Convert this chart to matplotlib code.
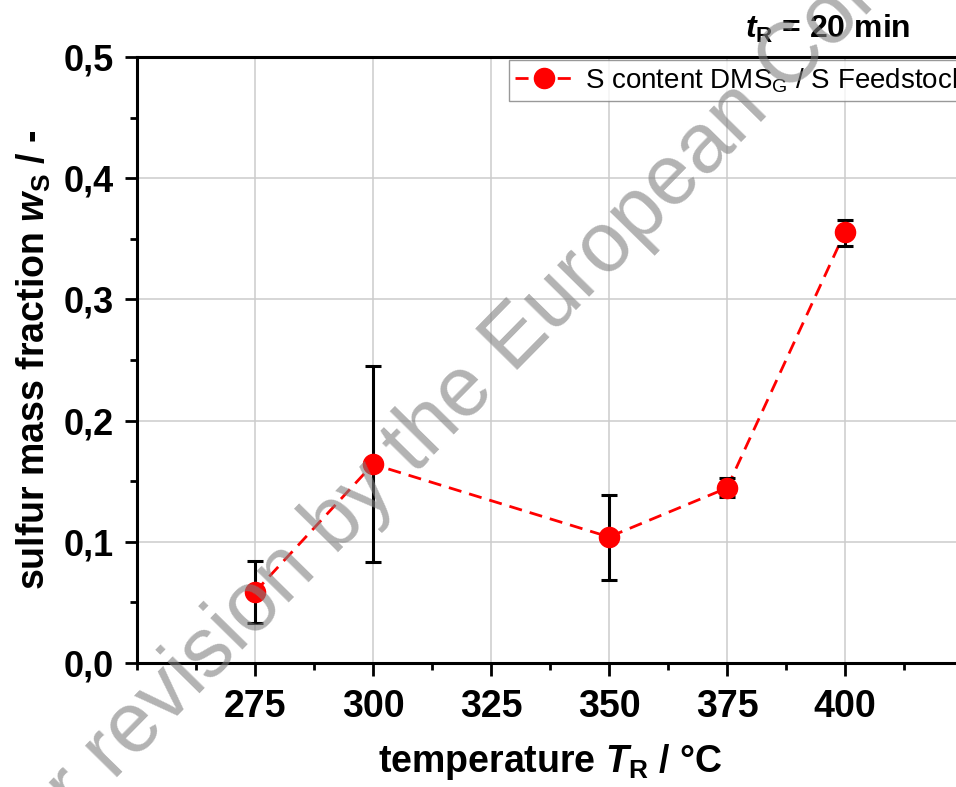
import math
import matplotlib
matplotlib.use("Agg")
import matplotlib.pyplot as plt
from matplotlib import font_manager
from matplotlib.ticker import FixedLocator, FixedFormatter, MultipleLocator

# ---- data ----
temperature = [275, 300, 350, 375, 400]
sulfur_fraction = [0.0586, 0.164, 0.104, 0.1444, 0.3556]
err_low = [0.0256, 0.0807, 0.0355, 0.0074, 0.0116]
err_high = [0.0254, 0.081, 0.0346, 0.0082, 0.0099]
x_ticks = [275, 300, 325, 350, 375, 400]
x_ticklabels = ["275", "300", "325", "350", "375", "400"]
y_ticks = [0.0, 0.1, 0.2, 0.3, 0.4, 0.5]
y_ticklabels = ["0,0", "0,1", "0,2", "0,3", "0,4", "0,5"]
legend_label = r"S content DMS$_\mathsf{G}$ / S Feedstock"
title_text = r"$\mathit{t}_\mathbf{R}$ = 20 min"
xlabel_text = r"temperature $\mathit{T}_\mathbf{R}$ / °C"
ylabel_text = r"sulfur mass fraction $\mathit{w}_\mathbf{S}$ / -"
watermark = "For revision by the European Commission"

names = {f.name for f in font_manager.fontManager.ttflist}
base = "Liberation Sans" if "Liberation Sans" in names else "DejaVu Sans"
narrow = "Liberation Sans Narrow" if "Liberation Sans Narrow" in names else base

plt.rcParams["font.family"] = [base, "DejaVu Sans"]
plt.rcParams["mathtext.fontset"] = "custom"
plt.rcParams["mathtext.rm"] = f"{base}:bold"
plt.rcParams["mathtext.bf"] = f"{base}:bold"
plt.rcParams["mathtext.it"] = f"{base}:italic:bold"
plt.rcParams["mathtext.sf"] = f"{base}"

W, H = 956, 787
fig = plt.figure(figsize=(W/100, H/100), dpi=100)
ax = fig.add_axes([137/W, 124/H, 826/W, 606/H])

ax.set_xlim(250, 425)
ax.set_ylim(0, 0.5)

ax.grid(True, which="major", color="#cccccc", linewidth=1.1, zorder=0)
ax.set_axisbelow(True)

dash = (0, (4.7, 2.9))
ax.plot(temperature, sulfur_fraction, linestyle=dash, color="#ff0000",
        linewidth=2.0, zorder=3)
ax.errorbar(temperature, sulfur_fraction, yerr=[err_low, err_high], fmt="none",
            ecolor="black", elinewidth=2.2, capsize=5.5, capthick=2.2, zorder=4)
ax.plot(temperature, sulfur_fraction, linestyle="none", marker="o",
        markersize=14.5, color="#ff0000", zorder=5)
# legend proxy
h, = ax.plot([], [], linestyle=dash, color="#ff0000", linewidth=2.0,
             marker="o", markersize=14.5)

ax.xaxis.set_major_locator(FixedLocator(x_ticks))
ax.xaxis.set_major_formatter(FixedFormatter(x_ticklabels))
ax.xaxis.set_minor_locator(MultipleLocator(12.5))
ax.yaxis.set_major_locator(FixedLocator(y_ticks))
ax.yaxis.set_major_formatter(FixedFormatter(y_ticklabels))
ax.yaxis.set_minor_locator(MultipleLocator(0.05))

for s in ax.spines.values():
    s.set_linewidth(2.2)
ax.tick_params(which="major", direction="out", length=9, width=2.0)
ax.tick_params(which="minor", direction="out", length=5, width=2.0)
ax.tick_params(axis="x", which="major", pad=10)
ax.tick_params(axis="y", which="major", pad=8)
ax.tick_params(top=False, right=False, which="both")

for lab in ax.get_xticklabels():
    lab.set_fontfamily([narrow, "DejaVu Sans"])
    lab.set_fontweight("bold")
    lab.set_fontsize(27)
for lab in ax.get_yticklabels():
    lab.set_fontweight("bold")
    lab.set_fontsize(26)

ax.set_xlabel(xlabel_text, fontsize=27, fontweight="bold", labelpad=12)
ax.set_ylabel(ylabel_text, fontsize=27, fontweight="bold", labelpad=7)

leg = ax.legend([h], [legend_label], loc="upper left",
                bbox_to_anchor=(372/826, 0.995), fontsize=20, frameon=True,
                fancybox=False, edgecolor="#808080", handlelength=2.1,
                borderpad=0.22, handletextpad=0.4, borderaxespad=0)
leg.get_frame().set_linewidth(1.0)

fig.text(910/W, 1 - 38/H, title_text, fontsize=23, fontweight="bold",
         ha="right", va="baseline")

# watermark: the 'r' of "revision" centred near (106, 753) and the 'C' of
# "Commission" near (788, 55), in pixels from the top-left corner
wm_size = 61
wm_angle = 45.5
renderer = fig.canvas.get_renderer()


def text_w(s):
    t = fig.text(0, 0, s, fontsize=wm_size)
    w = t.get_window_extent(renderer).width
    t.remove()
    return w


r_pos = text_w("For r") - text_w("r") / 2
c_pos = text_w("For revision by the European C") - text_w("C") / 2
mid_pos = (r_pos + c_pos) / 2
mid_x, mid_y = (106 + 788) / 2, H - (753 + 55) / 2   # y up
th = math.radians(wm_angle)
em = wm_size * 100 / 72
lift = 0.31 * em
# move from glyph centre line down to the baseline (perpendicular)
bx = mid_x + lift * math.sin(th)
by = mid_y - lift * math.cos(th)
sx = bx - mid_pos * math.cos(th)
sy = by - mid_pos * math.sin(th)
fig.text(sx/W, sy/H, watermark, fontsize=wm_size, color="#808080",
         alpha=0.6, rotation=wm_angle, rotation_mode="anchor", ha="left",
         va="baseline", zorder=10)

fig.savefig("out.png", dpi=100)
